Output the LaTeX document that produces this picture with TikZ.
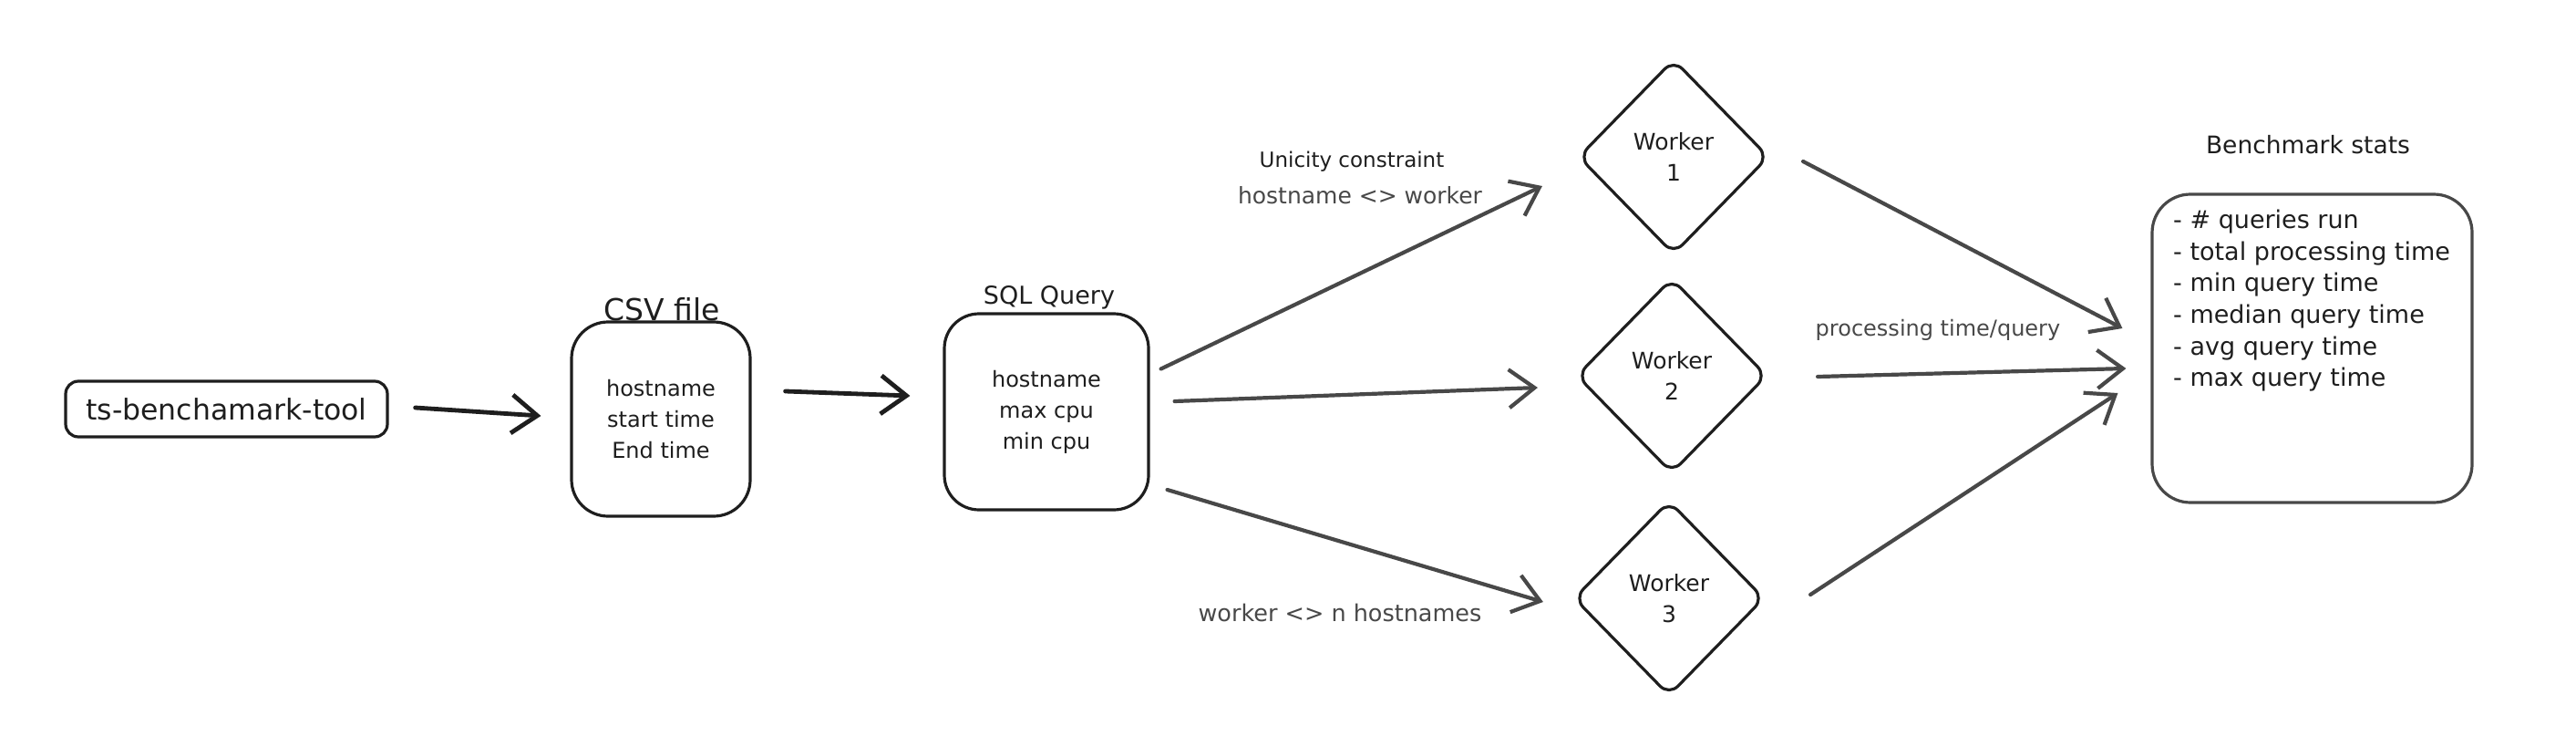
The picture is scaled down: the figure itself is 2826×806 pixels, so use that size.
\documentclass[tikz,border=0pt]{standalone}
\usepackage{fontspec}
\setmainfont{DejaVu Sans}
\usetikzlibrary{arrows.meta,shapes.geometric,calc}
\definecolor{ink}{HTML}{1E1E1E}
\definecolor{grayink}{HTML}{484848}
\begin{document}
\begin{tikzpicture}[x=1pt,y=-1pt,
  box/.style={draw=ink, line width=3.2pt, inner sep=0pt, text=ink, align=center,
    font=\fontsize{24}{34}\selectfont},
  diam/.style={draw=ink, diamond, line width=3.2pt, rounded corners=14pt,
    minimum width=209pt, minimum height=214pt, inner sep=0pt, align=center,
    text=ink, font=\fontsize{25}{34}\selectfont},
  lbl/.style={text=ink, inner sep=0pt, font=\fontsize{23}{30}\selectfont},
  glbl/.style={text=grayink, inner sep=0pt, font=\fontsize{25}{30}\selectfont},
  arr/.style={-{Straight Barb[length=28pt,width=42pt]}, line width=4.2pt,
    line cap=round, draw=grayink},
  darr/.style={arr, draw=ink, line width=4.8pt}
]
\useasboundingbox (0,0) rectangle (2826,806);

% nodes
\node[box, minimum width=353pt, minimum height=61pt, rounded corners=14pt,
      font=\fontsize{31.5}{40}\selectfont] (ts) at (248.5,448.5) {ts-benchamark-tool};
\node[box, minimum width=196pt, minimum height=213pt, rounded corners=40pt] (csv)
      at (725,459.5) {hostname\\start time\\End time};
\node[lbl, font=\fontsize{33}{38}\selectfont] (csvlab) at (726,339) {CSV file};
\node[box, minimum width=224pt, minimum height=215pt, rounded corners=38pt] (sql)
      at (1148,451.5) {hostname\\max cpu\\min cpu};
\node[lbl, font=\fontsize{27}{34}\selectfont] (sqllab) at (1151,326) {SQL Query};

\node[diam] (w1) at (1836,172) {Worker\\1};
\node[diam] (w2) at (1834,412) {Worker\\2};
\node[diam] (w3) at (1831,656) {Worker\\3};

\node[box, draw=grayink, minimum width=351pt, minimum height=338pt, rounded corners=42pt] (stats)
      at (2536.5,382) {};
\node[lbl, anchor=north west, align=left, font=\fontsize{27}{34.6}\selectfont] (statst)
      at (2384,230) {- \# queries run\\- total processing time\\- min query time\\- median query time\\- avg query time\\- max query time};
\node[lbl, font=\fontsize{26.5}{32}\selectfont] (benchlab) at (2532,159) {Benchmark stats};

\node[lbl] (uni) at (1483,177) {Unicity constraint};
\node[glbl] (hw) at (1492,214) {hostname <> worker};
\node[glbl, font=\fontsize{25.5}{30}\selectfont] (wn) at (1470,672) {worker <> n hostnames};
\node[glbl, font=\fontsize{24}{30}\selectfont] (ptq) at (2126,362) {processing time/query};

% connectors
\draw[darr] ($(ts.east)+(29,-1.5)$) -- ($(csv.west)+(-32,-3.5)$);
\draw[darr] ($(csv.east)+(37,-30.5)$) -- ($(sql.west)+(-36,-17.5)$);
\draw[arr] ($(sql.east)+(12,-47)$) -- ($(w1.west)+(-38,32)$);
\draw[arr] ($(sql.east)+(27,-11.5)$) -- ($(w2.west)+(-41,13)$);
\draw[arr] ($(sql.east)+(19,85.5)$) -- ($(w3.west)+(-32,4)$);
\draw[arr] ($(w1.east)+(36,5)$) -- ($(stats.west)+(-31,-22)$);
\draw[arr] ($(w2.east)+(54,1)$) -- ($(stats.west)+(-27,22)$);
\draw[arr] ($(w3.east)+(49,-4)$) -- ($(stats.west)+(-36,49)$);
\end{tikzpicture}
\end{document}
